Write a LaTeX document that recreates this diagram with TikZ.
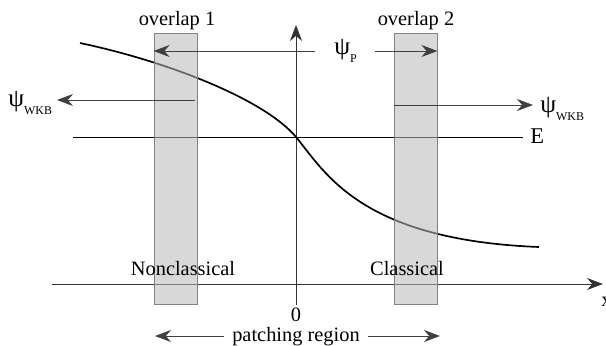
\documentclass[tikz,border=0pt]{standalone}
\usepackage{fontspec}
\setmainfont{Liberation Serif}
\newfontfamily\timesfont{Liberation Serif}
\usetikzlibrary{arrows.meta, positioning, calc}
\newcommand{\psisub}[1]{\fontsize{18}{20}\selectfont ψ\raisebox{-0.7ex}{\fontsize{8.5}{9}\selectfont #1}}

\begin{document}
\begin{tikzpicture}[x=0.025cm, y=-0.025cm,
    every node/.style={font=\timesfont\fontsize{14.5}{17}\selectfont, inner sep=0pt},
    band/.style={draw=black!50, fill=black!28, fill opacity=0.55, line width=0.6pt,
                 minimum width=1.075cm, minimum height=6.775cm},
    axis/.style={-{Stealth[length=4mm, width=3mm, inset=1.3mm]}, line width=0.6pt, black!80},
    arr/.style={-{Stealth[length=4mm, width=3mm, inset=1.3mm]}, line width=0.6pt, black!75},
    lvl/.style={line width=0.7pt},
    wave/.style={line width=1.2pt}
]
    \useasboundingbox (0,0) rectangle (606,345);

    % axes and energy level
    \coordinate (xl) at (52,284);
    \coordinate (xr) at (603,284);
    \coordinate (yb) at (296,305);
    \coordinate (yt) at (296,25);
    \coordinate (el) at (73,137);
    \coordinate (er) at (523,137);
    \draw[axis] (xl) -- (xr);
    \draw[axis] (yb) -- (yt);
    \draw[lvl]  (el) -- (er);
    \node[anchor=base west, font=\timesfont\fontsize{16}{18}\selectfont] (E) at (530,143) {E};
    \node[anchor=west] (xlab) at (601,302) {x};
    \node[anchor=base] (zero) at (296,321) {0};

    % potential curve
    \coordinate (vs) at (80,43);
    \coordinate (vo) at (296,137);
    \coordinate (ve) at (539,247);
    \draw[wave] (vs) .. controls (170,62) and (265,100) .. (vo)
                     .. controls (325,172) and (360,240) .. (ve);

    % overlap bands
    \node[band] (ov1) at (175.5,168.5) {};
    \node[band] (ov2) at (415.5,168.5) {};
    \node[anchor=base] (ov1lab) at (177,25) {overlap 1};
    \node[anchor=base] (ov2lab) at (416,25) {overlap 2};

    % wave functions
    \coordinate (pl) at (315,51);
    \coordinate (pr) at (375,51);
    \draw[arr] (pl) -- (pl -| ov1.west);
    \draw[arr] (pr) -- (pr -| ov2.east);
    \node[anchor=base west] (psiP) at (334,54) {\psisub{P}};

    \coordinate (wl) at (195,100);
    \coordinate (wlt) at (57,100);
    \coordinate (wr) at (394,105);
    \coordinate (wrt) at (533,105);
    \draw[arr] (wl) -- (wlt);
    \draw[arr] (wr) -- (wrt);
    \node[anchor=base west] (psiWl) at (8,106) {\psisub{WKB}};
    \node[anchor=base west] (psiWr) at (540,112) {\psisub{WKB}};

    % regions
    \node[anchor=base] (ncl) at (183,275) {Nonclassical};
    \node[anchor=base] (cl)  at (407,275) {Classical};
    \node[anchor=base] (patch) at (296,341) {patching region};
    \coordinate (ptl) at (155,336);
    \coordinate (ptr) at (440,336);
    \draw[arr] ([xshift=-6pt]patch.west |- ptl) -- (ptl);
    \draw[arr] ([xshift=6pt]patch.east |- ptr) -- (ptr);
\end{tikzpicture}
\end{document}
